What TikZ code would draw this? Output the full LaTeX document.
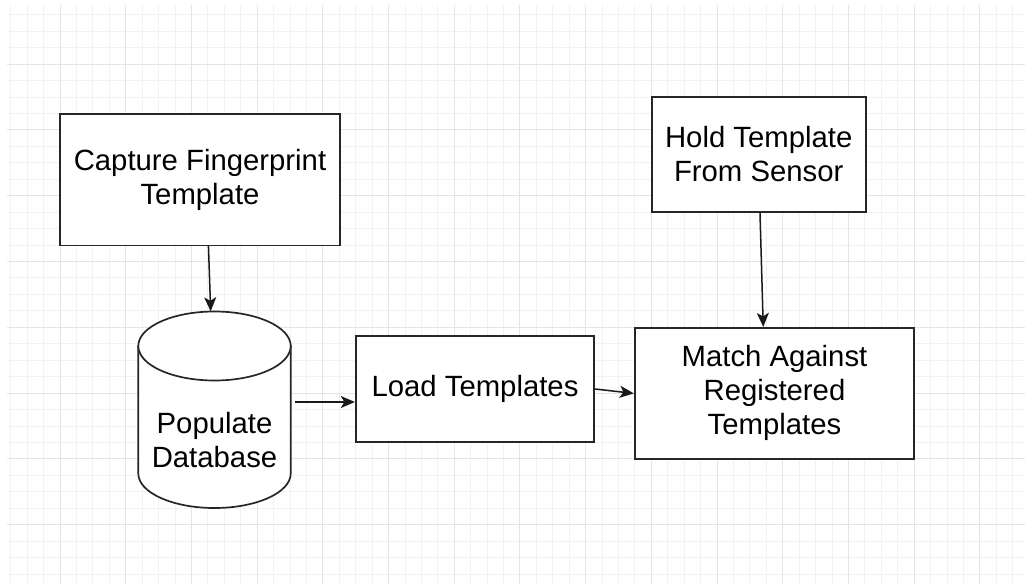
\documentclass[tikz,border=0pt]{standalone}
\usepackage{fontspec}
\setmainfont{Liberation Sans}
\usetikzlibrary{arrows.meta,calc}
\begin{document}
\begin{tikzpicture}[x=1pt,y=-1pt,
  gridminor/.style={draw=black!5,line width=0.8pt},
  gridmajor/.style={draw=black!10,line width=0.9pt},
  procbox/.style={draw=black!85,line width=1.7pt,fill=white,rectangle,
    inner sep=0pt,align=center,font=\fontsize{29.3}{34}\selectfont},
  boxlabel/.style={inner sep=0pt,align=center,font=\fontsize{29.3}{34}\selectfont},
  flow/.style={draw=black!90,line width=1.5pt,
    -{Stealth[length=14pt,width=12pt,inset=3.5pt]}},
]
\useasboundingbox (0,0) rectangle (1025,584);
\fill[white] (0,0) rectangle (1025,584);

% background grid: minor lines, then major lines every fourth step
\foreach \i in {0,...,61}
  \draw[gridminor] ({10.7+16.425*\i},5) -- ({10.7+16.425*\i},584);
\foreach \j in {0,...,34}
  \draw[gridminor] (7,{14.65+16.45*\j}) -- (1025,{14.65+16.45*\j});
\foreach \i in {0,...,14}
  \draw[gridmajor] ({60+65.7*\i},5) -- ({60+65.7*\i},584);
\foreach \j in {0,...,7}
  \draw[gridmajor] (7,{64+65.8*\j}) -- (1025,{64+65.8*\j});

% process boxes
\node[procbox,minimum width=280pt,minimum height=131.3pt] (cap) at (200,179.7)
  {Capture Fingerprint\\Template};
\node[procbox,minimum width=214pt,minimum height=115.6pt] (hold) at (758.7,154.5)
  {Hold Template\\From Sensor};
\node[procbox,minimum width=238.6pt,minimum height=106.6pt] (load) at (475,389)
  {Load Templates};
\node[procbox,minimum width=279.6pt,minimum height=131.3pt] (match) at (774.5,393.4)
  {Match Against\\Registered\\Templates};

% database cylinder
\node[minimum width=152.4pt,minimum height=196.5pt,inner sep=0pt] (db) at (214.5,409.75) {};
\filldraw[fill=white,draw=black!85,line width=1.7pt]
  (138.3,346) -- (138.3,473.5)
  .. controls (138.3,492.55) and (172.41,508) .. (214.5,508)
  .. controls (256.59,508) and (290.7,492.55) .. (290.7,473.5)
  -- (290.7,346) -- cycle;
\draw[fill=white,draw=black!85,line width=1.7pt] (214.5,346) ellipse [x radius=76.2, y radius=34.5];
\node[boxlabel] (dblabel) at (214.5,440) {Populate\\Database};

% connectors
\coordinate (dbout) at (295,402);
\draw[flow] ($(cap.south west)!0.53!(cap.south east)$) -- ($(db.north west)!0.475!(db.north east)$);
\draw[flow] (dbout) -- (dbout -| load.west);
\draw[flow] (load.east) -- (match.west);
\draw[flow] ($(hold.south west)!0.506!(hold.south east)$) -- ($(match.north west)!0.46!(match.north east)$);
\end{tikzpicture}
\end{document}
